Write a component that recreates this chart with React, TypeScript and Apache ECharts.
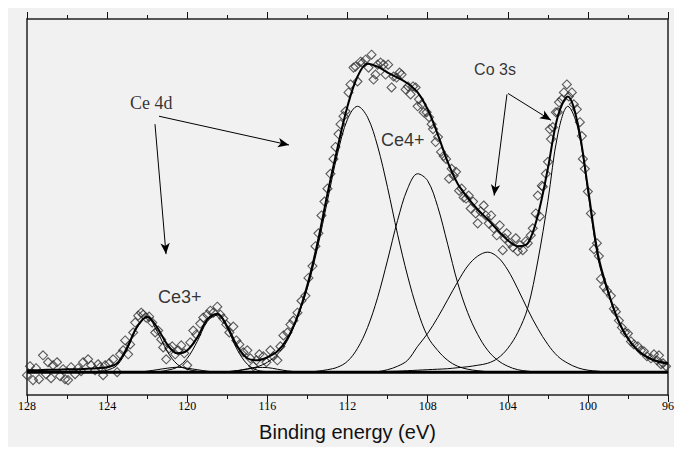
import React, { useEffect, useRef } from "react";
import * as echarts from "echarts";

// Binding energy axis (eV), reversed as in XPS spectra
const energyMin = 96;
const energyMax = 128;
const energyStep = 4;
// Intensity axis range (arbitrary units, background level = 0)
const intensityMin = -23;
const intensityMax = 356;

// Measured XPS intensity (arbitrary units above the background)
const measured: [number, number][] = [
  [128.0, -3], [127.85, 6], [127.7, -8], [127.55, 4], [127.4, -7], [127.2, 17], [127.05, -2], [126.95, 10],
  [126.8, -6], [126.7, 7], [126.5, 10], [126.35, -4], [126.2, 3], [126.1, -7], [125.95, -8], [125.8, 5],
  [125.6, -2], [125.45, 4], [125.3, 1], [125.2, 10], [124.95, 13], [124.8, 7], [124.6, 2], [124.45, 8],
  [124.35, 5], [124.2, -3], [124.1, 7], [123.9, 9], [123.7, 13], [123.5, 0], [123.35, 18], [123.2, 22],
  [123.1, 32], [122.95, 18], [122.85, 28], [122.7, 40], [122.6, 50], [122.45, 57], [122.3, 60], [122.2, 58],
  [122.05, 55], [121.9, 56], [121.75, 50], [121.6, 40], [121.45, 42], [121.3, 33], [121.2, 25], [121.05, 13],
  [120.9, 24], [120.75, 26], [120.6, 18], [120.45, 22], [120.3, 27], [120.15, 19], [120.0, 7], [119.85, 30],
  [119.7, 42], [119.55, 38], [119.35, 49], [119.2, 55], [119.0, 58], [118.85, 62], [118.7, 60], [118.5, 66],
  [118.35, 58], [118.2, 54], [118.05, 48], [117.9, 40], [117.7, 46], [117.55, 32], [117.4, 28], [117.2, 20],
  [117.0, 22], [116.85, 14], [116.7, 6], [116.55, 12], [116.4, 18], [116.2, 16], [116.05, 10], [115.85, 22],
  [115.7, 16], [115.5, 12], [115.35, 26], [115.2, 37], [115.0, 40], [114.85, 48], [114.7, 52], [114.5, 60],
  [114.3, 72], [114.1, 77], [113.95, 95], [113.75, 107], [113.6, 127], [113.45, 140], [113.3, 158], [113.15, 172],
  [113.0, 185], [112.85, 200], [112.7, 215], [112.6, 227], [112.45, 240], [112.35, 250], [112.2, 258], [112.1, 263],
  [111.95, 282], [111.85, 290], [111.7, 307], [111.6, 308], [111.5, 293], [111.35, 313], [111.25, 312], [111.1, 315],
  [110.95, 307], [110.8, 320], [110.7, 295], [110.6, 300], [110.5, 310], [110.35, 312], [110.2, 310], [110.1, 300],
  [109.97, 310], [109.8, 287], [109.7, 298], [109.55, 297], [109.4, 302], [109.3, 300], [109.1, 285], [108.98, 288],
  [108.85, 280], [108.73, 288], [108.6, 287], [108.5, 268], [108.43, 275], [108.3, 270], [108.2, 262], [108.05, 262],
  [107.93, 257], [107.8, 250], [107.73, 245], [107.6, 232], [107.48, 237], [107.33, 222], [107.2, 218], [107.08, 215],
  [106.93, 195], [106.8, 205], [106.7, 198], [106.58, 202], [106.43, 183], [106.3, 185], [106.2, 176], [106.08, 175],
  [105.95, 178], [105.85, 165], [105.73, 172], [105.6, 160], [105.5, 150], [105.35, 162], [105.2, 168], [105.1, 158],
  [104.95, 150], [104.83, 158], [104.7, 145], [104.55, 138], [104.4, 148], [104.25, 123], [104.15, 135], [104.05, 140],
  [103.9, 130], [103.75, 126], [103.6, 135], [103.5, 122], [103.4, 128], [103.25, 123], [103.1, 132], [103.0, 130],
  [102.85, 138], [102.75, 145], [102.6, 160], [102.5, 178], [102.4, 157], [102.3, 188], [102.25, 187], [102.1, 200],
  [101.99, 212], [101.9, 245], [101.84, 235], [101.75, 247], [101.6, 262], [101.5, 262], [101.44, 272], [101.3, 275],
  [101.2, 282], [101.05, 290], [100.95, 278], [100.8, 282], [100.7, 270], [100.55, 265], [100.4, 252], [100.3, 238],
  [100.25, 215], [100.15, 205], [100.0, 182], [99.85, 160], [99.7, 124], [99.55, 130], [99.45, 117], [99.35, 94],
  [99.2, 86], [99.05, 82], [98.85, 77], [98.7, 64], [98.6, 61], [98.45, 52], [98.3, 45], [98.15, 40],
  [98.0, 39], [97.85, 31], [97.7, 28], [97.5, 26], [97.35, 22], [97.2, 21], [97.05, 16], [96.85, 14],
  [96.7, 18], [96.55, 12], [96.45, 17], [96.35, 8], [96.25, 9], [96.1, 6],
];

// Total fit envelope
const envelope: [number, number][] = [
  [128, 2], [127.5, 2], [127, 2.5], [126.5, 2.5], [126, 3], [125.5, 3], [125, 3.5], [124.5, 4], [124, 5],
  [123.5, 9], [123, 25], [122.5, 46], [122, 56], [121.5, 45], [121, 28], [120.5, 19], [120, 22], [119.5, 35],
  [119, 53], [118.5, 59], [118, 46], [117.5, 26], [117, 14], [116.5, 12], [116, 15], [115.5, 21], [115, 34],
  [114.5, 56], [114, 88], [113.5, 130], [113, 180], [112.5, 226], [112, 268], [111.5, 298], [111, 311],
  [110.5, 308], [110, 302], [109.5, 297], [109, 291], [108.5, 282], [108, 265], [107.5, 240], [107, 212],
  [106.5, 190], [106, 176], [105.5, 164], [105, 154], [104.5, 143], [104, 133], [103.5, 127], [103, 130],
  [102.5, 158], [102, 205], [101.5, 258], [101, 278], [100.5, 250], [100, 186], [99.5, 119], [99, 82],
  [98.5, 53], [98, 34], [97.5, 22], [97, 15], [96.5, 11], [96, 9],
];

// Fitted components
const ce3PeakA: [number, number][] = [
  [125, 0], [124.5, 0.5], [124, 2], [123.5, 7], [123, 23], [122.5, 45], [122, 55], [121.5, 41], [121, 21],
  [120.5, 8], [120, 3], [119.5, 1], [119, 0],
];
const ce3HumpA: [number, number][] = [
  [122.5, 0], [122, 1], [121.5, 2.5], [121, 4], [120.5, 5], [120, 4], [119.5, 2.5], [119, 1], [118.5, 0],
];
const ce3PeakB: [number, number][] = [
  [121.5, 0], [121, 2], [120.5, 5], [120, 14], [119.5, 31], [119, 51], [118.5, 57.5], [118, 44], [117.5, 22.5],
  [117, 8], [116.5, 2], [116, 0.5], [115.5, 0],
];
const ce3HumpB: [number, number][] = [
  [118.5, 0], [118, 0.5], [117.5, 1.6], [117, 3.4], [116.5, 4.8], [116, 4.6], [115.5, 3], [115, 1.3], [114.5, 0.4], [114, 0],
];
const ce4PeakA: [number, number][] = [
  [118.5, 0], [118, 0.5], [117.5, 1.5], [117, 3], [116.5, 5.5], [116, 10], [115.5, 18], [115, 32], [114.5, 55],
  [114, 85], [113.5, 125], [113, 173], [112.5, 220], [112, 255], [111.5, 268], [111, 257], [110.5, 228],
  [110, 186], [109.5, 139], [109, 97], [108.5, 62], [108, 36], [107.5, 22], [107, 12], [106.5, 6], [106, 3],
  [105.5, 1.5], [105, 0.5], [104.5, 0],
];
const ce4PeakB: [number, number][] = [
  [114, 0], [113.5, 1], [113, 2.5], [112.5, 5], [112, 11], [111.5, 24], [111, 45], [110.5, 75], [110, 113],
  [109.5, 153], [109, 185], [108.5, 200], [108, 193], [107.5, 167], [107, 129], [106.5, 90], [106, 60],
  [105.5, 38], [105, 22], [104.5, 12], [104, 6], [103.5, 2.5], [103, 1], [102.5, 0],
];
const co3sPeakA: [number, number][] = [
  [111, 0], [110.5, 0.5], [110, 2.5], [109.5, 6], [109, 12], [108.5, 26], [108, 39], [107.5, 55], [107, 73],
  [106.5, 91], [106, 107], [105.5, 117], [105, 121], [104.5, 116], [104, 103], [103.5, 84], [103, 63],
  [102.5, 44], [102, 28], [101.5, 16], [101, 9], [100.5, 4.4], [100, 2], [99.5, 1], [99, 0],
];
const co3sPeakB: [number, number][] = [
  [110.5, 0], [110, 0.7], [109.5, 1], [109, 1.5], [108.5, 2], [108, 2.5], [107.5, 3], [107, 3.5], [106.5, 4.5],
  [106, 5.5], [105.5, 7], [105, 9], [104.5, 14], [104, 24], [103.5, 40], [103, 65], [102.5, 112], [102, 172],
  [101.5, 240], [101, 268], [100.5, 246], [100, 182], [99.5, 115], [99, 80], [98.5, 52], [98, 33], [97.5, 21],
  [97, 14], [96.5, 10], [96, 8],
];
const background: [number, number][] = [[128, 0], [96, 0]];

// Annotation arrows (start, end) in data coordinates
const arrows: [[number, number], [number, number]][] = [
  [[121.41, 258], [114.92, 229]],
  [[121.61, 250], [121.06, 119]],
  [[103.99, 281], [101.84, 254]],
  [[104.04, 280], [104.68, 178]],
];

// Annotation texts
const annotations: { e: number; v: number; text: string; font: string; size: number }[] = [
  { e: 122.86, v: 271.5, text: "Ce 4d", font: "Liberation Serif", size: 18 },
  { e: 110.33, v: 234.5, text: "Ce4+", font: "Liberation Sans", size: 18 },
  { e: 121.46, v: 75.5, text: "Ce3+", font: "Liberation Sans", size: 18 },
  { e: 105.68, v: 305, text: "Co 3s", font: "Liberation Sans", size: 16 },
];

const componentSeries = [ce3PeakA, ce3HumpA, ce3PeakB, ce3HumpB, ce4PeakA, ce4PeakB, co3sPeakA, co3sPeakB];

function energyAxis(position: "top" | "bottom", withLabels: boolean) {
  return {
    type: "value",
    position,
    min: energyMin,
    max: energyMax,
    interval: energyStep,
    inverse: true,
    axisLine: { show: true, onZero: false, lineStyle: { color: "#222", width: 1.5 } },
    // with onZero disabled, "inside: false" draws the ticks into the plot area here
    axisTick: { show: true, inside: false, length: 7, lineStyle: { color: "#111", width: 1 } },
    minorTick: { show: true, splitNumber: 2, length: 4, lineStyle: { color: "#111", width: 1 } },
    splitLine: { show: false },
    minorSplitLine: { show: false },
    axisLabel: withLabels
      ? { show: true, fontFamily: "Liberation Serif", fontSize: 12, color: "#000", margin: 5 }
      : { show: true, formatter: () => "" },
    name: withLabels ? "Binding energy (eV)" : "",
    nameLocation: "middle",
    nameGap: 27,
    nameTextStyle: { fontFamily: "Liberation Sans", fontSize: 20, color: "#111" },
  };
}

function intensityAxis(position: "left" | "right") {
  return {
    type: "value",
    position,
    min: intensityMin,
    max: intensityMax,
    axisLine: { show: true, onZero: false, lineStyle: { color: "#222", width: 1.5 } },
    axisTick: { show: false },
    axisLabel: { show: false },
    splitLine: { show: false },
  };
}

export default function App() {
  const ref = useRef<HTMLDivElement>(null);
  useEffect(() => {
    document.documentElement.style.overflow = "hidden";
    document.body.style.overflow = "hidden";
    if (!ref.current) return;
    const chart = echarts.init(ref.current, undefined, { renderer: "svg" });
    chart.setOption({
      animation: false,
      backgroundColor: "#f1f1f1",
      grid: { left: 19, right: 14, top: 11, bottom: 49 },
      xAxis: [energyAxis("bottom", true), energyAxis("top", false)],
      yAxis: [intensityAxis("left"), intensityAxis("right")],
      series: [
        {
          type: "scatter",
          data: measured,
          symbol: "diamond",
          symbolSize: 9,
          itemStyle: { color: "transparent", borderColor: "#333", borderWidth: 1.1 },
          silent: true,
          z: 2,
        },
        ...componentSeries.map((d) => ({
          type: "line",
          data: d,
          smooth: 0.35,
          showSymbol: false,
          lineStyle: { color: "#000", width: 1 },
          silent: true,
          z: 3,
        })),
        {
          type: "line",
          data: envelope,
          smooth: 0.35,
          showSymbol: false,
          lineStyle: { color: "#000", width: 2 },
          silent: true,
          z: 4,
        },
        {
          type: "line",
          data: background,
          showSymbol: false,
          lineStyle: { color: "#000", width: 3 },
          silent: true,
          z: 4,
          markLine: {
            silent: true,
            symbol: ["none", "arrow"],
            symbolSize: [7, 11],
            label: { show: false },
            lineStyle: { color: "#000", width: 1, type: "solid" },
            data: arrows.map(([a, b]) => [{ coord: a }, { coord: b }]),
          },
        },
        {
          type: "scatter",
          data: annotations.map((a) => ({
            value: [a.e, a.v],
            label: {
              show: true,
              position: "right",
              distance: 0,
              formatter: a.text,
              fontFamily: a.font,
              fontSize: a.size,
              color: "#000",
            },
          })),
          symbolSize: 0,
          silent: true,
          z: 5,
        },
      ],
    });
    return () => chart.dispose();
  }, []);
  return <div ref={ref} style={{ width: 674, height: 439, background: "#f1f1f1" }} />;
}
